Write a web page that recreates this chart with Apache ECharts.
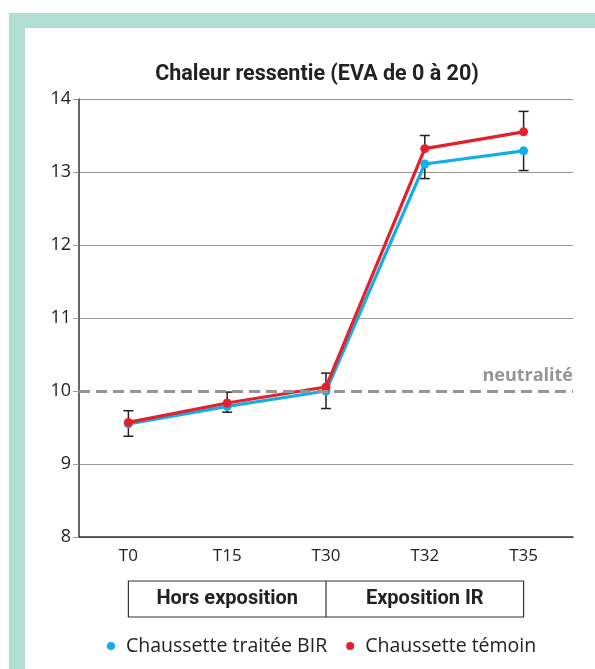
<!DOCTYPE html>
<html><head><meta charset="utf-8">
<script src="https://cdn.jsdelivr.net/npm/echarts@6/dist/echarts.min.js"></script>
<style>html,body{margin:0;padding:0;background:#fff}#c{width:595px;height:669px}</style>
</head><body><div id="c"></div>
<script>
var categories = ['T0', 'T15', 'T30', 'T32', 'T35'];
var birValues = [9.55, 9.79, 10.0, 13.11, 13.29];
var temoinValues = [9.57, 9.835, 10.055, 13.32, 13.55];
var birErrorLow = [0.17, 0.08, 0.24, 0.20, 0.27];
var temoinErrorHigh = [0.16, 0.15, 0.19, 0.18, 0.28];
var yTicks = [8, 9, 10, 11, 12, 13, 14];
var neutralValue = 10;
var phaseLabels = ['Hors exposition', 'Exposition IR'];
var seriesNames = ['Chaussette traitée BIR', 'Chaussette témoin'];

var chart = echarts.init(document.getElementById('c'));
var blue = '#12aee9', red = '#e6202a';
var regFont = 'Open Sans', condFont = 'Roboto';
var gridColors = yTicks.map(function (t) { return t === neutralValue ? 'rgba(0,0,0,0)' : '#999'; });

function errData(vals, errs, dir) {
  return vals.map(function (v, i) { return [i, v, v + dir * errs[i]]; });
}
function errRender(params, api) {
  var p0 = api.coord([api.value(0), api.value(1)]);
  var p1 = api.coord([api.value(0), api.value(2)]);
  var st = { stroke: '#222', lineWidth: 1.5 };
  return { type: 'group', children: [
    { type: 'line', shape: { x1: p0[0], y1: p0[1], x2: p1[0], y2: p1[1] }, style: st },
    { type: 'line', shape: { x1: p1[0] - 5, y1: p1[1], x2: p1[0] + 5, y2: p1[1] }, style: st }
  ]};
}

chart.setOption({
  animation: false,
  title: { text: 'Chaleur ressentie (EVA de 0 à 20)', left: 312, textAlign: 'center', top: 59,
    textStyle: { fontFamily: condFont, fontWeight: 'bold', fontSize: 21.5, color: '#222' } },
  grid: { left: 79, right: 22, top: 99, bottom: 132 },
  legend: { bottom: 8, left: 102, icon: 'circle', itemWidth: 20, itemHeight: 8, itemGap: 19,
    data: seriesNames, textStyle: { fontFamily: regFont, fontSize: 19.5, color: '#222' } },
  xAxis: { type: 'category', data: categories, boundaryGap: true,
    axisLine: { lineStyle: { color: '#333', width: 1.5 } },
    axisTick: { length: 5, lineStyle: { color: '#999' } },
    axisLabel: { fontFamily: regFont, fontSize: 17, color: '#222', margin: 11 } },
  yAxis: { type: 'value', min: yTicks[0], max: yTicks[yTicks.length - 1], interval: 1,
    axisLine: { show: true, lineStyle: { color: '#333', width: 1.5 } },
    axisTick: { show: true, length: 6, lineStyle: { color: '#999' } },
    axisLabel: { fontFamily: regFont, fontSize: 18, color: '#222', margin: 8 } ,
    splitLine: { lineStyle: { color: gridColors, width: 1 } } },
  series: [
    { name: seriesNames[0], type: 'line', data: birValues, color: blue, symbol: 'circle', symbolSize: 9,
      lineStyle: { width: 3.2 }, z: 3,
      markLine: { silent: true, symbol: 'none', data: [{ yAxis: neutralValue }],
        lineStyle: { color: '#959595', width: 3, type: [11, 6] },
        label: { formatter: 'neutralité', position: 'insideEndTop', fontFamily: regFont, fontWeight: 'bold',
          fontSize: 18, color: '#959595', distance: [0, 6] } } },
    { name: seriesNames[1], type: 'line', data: temoinValues, color: red, symbol: 'circle', symbolSize: 9,
      lineStyle: { width: 3.2 }, z: 4 },
    { type: 'custom', data: errData(birValues, birErrorLow, -1), renderItem: errRender, z: 2, silent: true },
    { type: 'custom', data: errData(temoinValues, temoinErrorHigh, 1), renderItem: errRender, z: 2, silent: true }
  ]
});

var xL = chart.convertToPixel({ xAxisIndex: 0 }, 0);
var xM = chart.convertToPixel({ xAxisIndex: 0 }, 2);
var xR = chart.convertToPixel({ xAxisIndex: 0 }, 4);
var boxTop = 581, boxH = 36;
chart.setOption({ graphic: [
  { type: 'rect', left: 9, top: 13, shape: { width: 586, height: 15 }, style: { fill: '#b2ddd3' }, silent: true },
  { type: 'rect', left: 9, top: 13, shape: { width: 16, height: 656 }, style: { fill: '#b2ddd3' }, silent: true },
  { type: 'rect', shape: { x: xL, y: boxTop, width: xR - xL, height: boxH }, style: { fill: 'none', stroke: '#333', lineWidth: 1.2 } },
  { type: 'line', shape: { x1: xM, y1: boxTop, x2: xM, y2: boxTop + boxH }, style: { stroke: '#333', lineWidth: 1.2 } },
  { type: 'text', x: (xL + xM) / 2, y: boxTop + boxH / 2, style: { text: phaseLabels[0], align: 'center', verticalAlign: 'middle',
    font: 'bold 20px "' + condFont + '"', fill: '#222' } },
  { type: 'text', x: (xM + xR) / 2, y: boxTop + boxH / 2, style: { text: phaseLabels[1], align: 'center', verticalAlign: 'middle',
    font: 'bold 20px "' + condFont + '"', fill: '#222' } }
]});
</script></body></html>
